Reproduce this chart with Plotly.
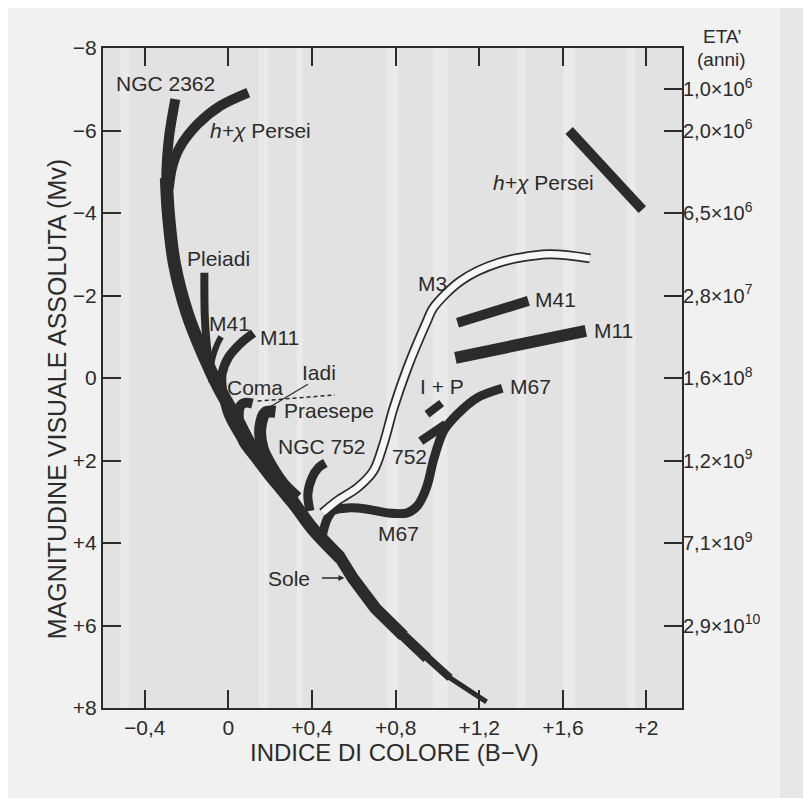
import plotly.graph_objects as go

# ---------------- data (B-V colour index, absolute visual magnitude Mv) ----------------
ms_bv = [-0.254, -0.285, -0.297, -0.287, -0.258, -0.196, -0.12, -0.045, 0.04, 0.13, 0.28, 0.40, 0.535, 0.595, 0.703, 0.837, 0.95, 1.06, 1.235]
ms_mv = [-6.76, -5.8, -4.85, -3.97, -2.76, -1.55, -0.57, 0.24, 1.0, 1.84, 2.8, 3.64, 4.36, 4.85, 5.58, 6.25, 6.79, 7.27, 7.85]

hxp_blue_bv = [-0.285, -0.27, -0.234, -0.148, -0.038, 0.095]
hxp_blue_mv = [-4.6, -5.1, -5.58, -6.15, -6.6, -6.92]
hxp_red_bv = [1.63, 1.98]
hxp_red_mv = [-6.0, -4.08]

pleiadi_bv = [-0.115, -0.113, -0.10, -0.075]
pleiadi_mv = [-2.55, -1.5, -0.65, 0.1]

m41_blue_bv = [-0.035, -0.055, -0.075, -0.085]
m41_blue_mv = [-1.0, -0.8, -0.5, -0.2]
m41_red_bv = [1.096, 1.435]
m41_red_mv = [-1.34, -1.87]

m11_blue_bv = [0.12, 0.06, 0.0, -0.03, -0.025, 0.0, 0.06, 0.15, 0.26, 0.36]
m11_blue_mv = [-1.09, -0.85, -0.5, -0.1, 0.4, 0.9, 1.45, 2.1, 2.8, 3.4]
m11_red_bv = [1.086, 1.71]
m11_red_mv = [-0.49, -1.14]

coma_bv = [0.115, 0.08, 0.057, 0.05, 0.07, 0.14, 0.215, 0.30]
coma_mv = [0.62, 0.6, 0.68, 1.04, 1.53, 2.0, 2.5, 2.9]

praesepe_bv = [0.225, 0.177, 0.153, 0.163, 0.20, 0.263, 0.33]
praesepe_mv = [0.82, 0.84, 1.2, 1.7, 2.09, 2.57, 2.9]
ip_giants_bv = [0.95, 1.02]
ip_giants_mv = [0.88, 0.61]
iadi_dash_bv = [0.14, 0.51]
iadi_dash_mv = [0.56, 0.41]
iadi_leader_bv = [0.38, 0.19]
iadi_leader_mv = [0.15, 0.73]

ngc752_bv = [0.464, 0.43, 0.40, 0.38, 0.39]
ngc752_mv = [2.06, 2.18, 2.42, 2.82, 3.22]
ngc752_giants_bv = [0.92, 1.04]
ngc752_giants_mv = [1.53, 1.12]

m3_bv = [0.45, 0.52, 0.617, 0.694, 0.742, 0.79, 0.856, 0.95, 0.98, 1.11, 1.29, 1.53, 1.73]
m3_mv = [3.27, 2.98, 2.66, 2.25, 1.6, 0.73, -0.24, -1.38, -1.7, -2.35, -2.79, -3.0, -2.9]

m67_bv = [0.45, 0.47, 0.50, 0.57, 0.665, 0.76, 0.856, 0.904, 0.935, 0.957, 0.98, 1.03, 1.095, 1.19, 1.31]
m67_mv = [3.8, 3.45, 3.22, 3.15, 3.18, 3.27, 3.27, 3.1, 2.82, 2.5, 2.01, 1.28, 0.88, 0.48, 0.25]

sun_bv = 0.555
sun_mv = 4.85

# axes
x_tickvals = [-0.4, 0, 0.4, 0.8, 1.2, 1.6, 2.0]
x_ticktext = ["\u22120,4", "0", "+0,4", "+0,8", "+1,2", "+1,6", "+2"]
y_tickvals = [-8, -6, -4, -2, 0, 2, 4, 6, 8]
y_ticktext = ["\u22128", "\u22126", "\u22124", "\u22122", "0", "+2", "+4", "+6", "+8"]
age_mv = [-7, -6, -4, -2, 0, 2, 4, 6]
age_text = ["1,0\u00d710<sup>6</sup>", "2,0\u00d710<sup>6</sup>", "6,5\u00d710<sup>6</sup>",
            "2,8\u00d710<sup>7</sup>", "1,6\u00d710<sup>8</sup>", "1,2\u00d710<sup>9</sup>",
            "7,1\u00d710<sup>9</sup>", "2,9\u00d710<sup>10</sup>"]

# labels: (text, B-V, Mv)
labels = [
    ("NGC 2362", -0.30, -7.15),
    ("<i>h+\u03c7</i> Persei", 0.153, -6.0),
    ("<i>h+\u03c7</i> Persei", 1.507, -4.75),
    ("Pleiadi", -0.048, -2.89),
    ("M41", 0.005, -1.33),
    ("M11", 0.244, -0.98),
    ("Coma", 0.127, 0.23),
    ("Iadi", 0.435, -0.13),
    ("Praesepe", 0.483, 0.79),
    ("NGC 752", 0.447, 1.66),
    ("M67", 0.816, 3.77),
    ("Sole", 0.292, 4.86),
    ("M3", 0.976, -2.29),
    ("M41", 1.565, -1.9),
    ("M11", 1.84, -1.15),
    ("I + P", 1.02, 0.21),
    ("M67", 1.445, 0.21),
    ("752", 0.866, 1.9),
]

INK = "#2b2b2b"
FONT = "Liberation Sans, Arial, Helvetica, sans-serif"

fig = go.Figure()


def band(xs, ys, w, color=INK, dash=None, shape="spline"):
    fig.add_trace(go.Scatter(
        x=xs, y=ys, mode="lines",
        line=dict(color=color, width=w, shape=shape, smoothing=0.9, dash=dash),
        hoverinfo="skip", showlegend=False))


# main sequence (NGC 2362 envelope): upper part
band(ms_bv[0:4], ms_mv[0:4], 10)
band(ms_bv[2:13], ms_mv[2:13], 13)
# lower main sequence tapering towards faint red dwarfs (nested bands on the same path)
for end, w in [(19, 5), (18, 8), (17, 10.5), (16, 12)]:
    band(ms_bv[11:end], ms_mv[11:end], w, shape="linear")

band(hxp_blue_bv, hxp_blue_mv, 10)
band(hxp_red_bv, hxp_red_mv, 10, shape="linear")
band(pleiadi_bv, pleiadi_mv, 8)
band(m41_blue_bv, m41_blue_mv, 6)
band(m41_red_bv, m41_red_mv, 10, shape="linear")
band(m11_blue_bv, m11_blue_mv, 9)
band(m11_red_bv, m11_red_mv, 12, shape="linear")
band(coma_bv, coma_mv, 10)
band(praesepe_bv, praesepe_mv, 12)
band(ip_giants_bv, ip_giants_mv, 8, shape="linear")
band(iadi_dash_bv, iadi_dash_mv, 1.5, dash="4px,3px", shape="linear")
band(iadi_leader_bv, iadi_leader_mv, 1.2, shape="linear")
band(ngc752_bv, ngc752_mv, 9)
band(ngc752_giants_bv, ngc752_giants_mv, 9, shape="linear")
band(m67_bv, m67_mv, 9)
# M3: open (outlined) band
band(m3_bv, m3_mv, 10)
band(m3_bv, m3_mv, 6.5, color="#f7f7f7")

annotations = []
for t, bx, mv in labels:
    annotations.append(dict(x=bx, y=mv, xref="x", yref="y", text=t, showarrow=False,
                            font=dict(family=FONT, size=21, color=INK),
                            xanchor="center", yanchor="middle"))
# Sun arrow
annotations.append(dict(x=sun_bv, y=sun_mv, ax=0.44, ay=sun_mv, xref="x", yref="y",
                        axref="x", ayref="y", text="", showarrow=True, arrowhead=2,
                        arrowsize=0.8, arrowwidth=1.5, arrowcolor=INK))

# axis titles and age header (paper coordinates)
annotations += [
    dict(x=-0.0794, y=0.468, xref="paper", yref="paper", text="MAGNITUDINE VISUALE ASSOLUTA (Mv)",
         textangle=-90, showarrow=False, xanchor="center", yanchor="middle",
         font=dict(family=FONT, size=25, color=INK)),
    dict(x=0.504, y=-0.068, xref="paper", yref="paper", text="INDICE DI COLORE (B\u2212V)",
         showarrow=False, xanchor="center", yanchor="middle",
         font=dict(family=FONT, size=24, color=INK)),
    dict(x=1.069, y=1.018, xref="paper", yref="paper", text="ETA\u2019",
         showarrow=False, xanchor="center", yanchor="middle",
         font=dict(family=FONT, size=19, color=INK)),
    dict(x=1.069, y=0.983, xref="paper", yref="paper", text="(anni)",
         showarrow=False, xanchor="center", yanchor="middle",
         font=dict(family=FONT, size=19, color=INK)),
]

# scanned-page background: right strip and plot area with light vertical stripes
shapes = [
    dict(type="rect", xref="paper", yref="paper", x0=1.1693, x1=1.25, y0=-0.2, y1=1.1,
         fillcolor="#e7e7e7", line=dict(width=0), layer="below"),
    dict(type="rect", xref="paper", yref="paper", x0=0, x1=1, y0=0, y1=1,
         fillcolor="#e2e2e2", line=dict(width=0), layer="below"),
]
for s0, s1 in [(0.03, 0.045), (0.27, 0.285), (0.335, 0.345), (0.49, 0.51), (0.57, 0.595),
               (0.715, 0.73), (0.795, 0.815), (0.905, 0.92)]:
    shapes.append(dict(type="rect", xref="paper", yref="paper", x0=s0, x1=s1, y0=0, y1=1,
                       fillcolor="#eaeaea", line=dict(width=0), layer="below"))

fig.update_layout(
    width=803, height=790,
    margin=dict(l=95, r=129, t=40, b=90),
    paper_bgcolor="#f1f1f1",
    plot_bgcolor="rgba(0,0,0,0)",
    showlegend=False,
    annotations=annotations,
    shapes=shapes,
    xaxis=dict(range=[-0.6, 2.17], tickvals=x_tickvals, ticktext=x_ticktext,
               ticks="inside", ticklen=18, tickwidth=2, tickcolor=INK,
               showline=True, linewidth=2, linecolor=INK, mirror="ticks",
               showgrid=False, zeroline=False,
               tickfont=dict(family=FONT, size=21, color=INK)),
    yaxis=dict(range=[8, -8], tickvals=y_tickvals, ticktext=y_ticktext,
               ticks="inside", ticklen=18, tickwidth=2, tickcolor=INK,
               showline=True, linewidth=2, linecolor=INK, mirror=True,
               showgrid=False, zeroline=False,
               tickfont=dict(family=FONT, size=21, color=INK)),
    yaxis2=dict(range=[8, -8], overlaying="y", side="right", tickvals=age_mv, ticktext=age_text,
                ticks="inside", ticklen=18, tickwidth=2, tickcolor=INK,
                showline=False, showgrid=False, zeroline=False,
                tickfont=dict(family=FONT, size=20, color=INK)),
)
# invisible trace to activate the right-hand age axis
fig.add_trace(go.Scatter(x=[None], y=[None], yaxis="y2", showlegend=False, hoverinfo="skip"))

fig.write_html("out.html")
